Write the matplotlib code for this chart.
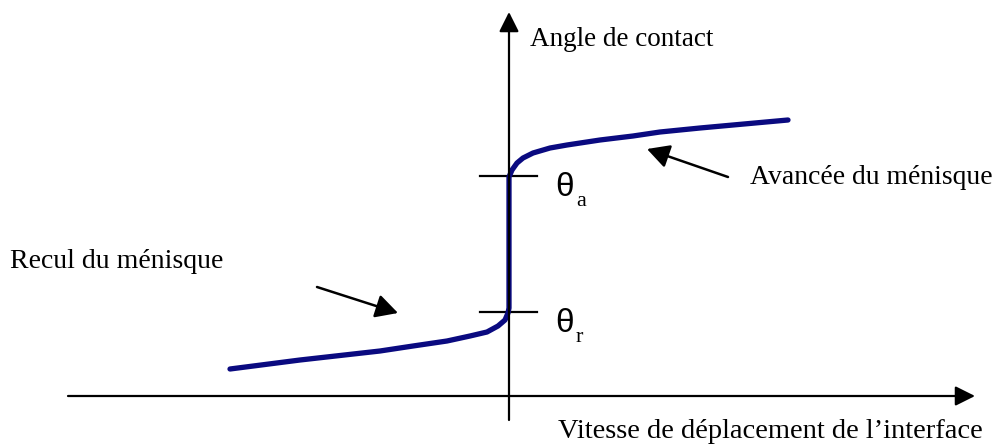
import numpy as np
import matplotlib.pyplot as plt

# contact angle curve, x = interface speed, y = angle
recul_x = [-279, -209, -129, -96, -62, -39, -22, -11, -4, -1, 0]
recul_y = [27, 36, 45, 50, 55, 60, 64, 70, 76, 83, 88]
avance_x = [0, 0, 3, 8, 14, 24, 41, 58, 91, 124, 151, 191, 279]
avance_y = [88, 219, 226, 233, 238, 243, 248, 251, 256, 260, 264, 268, 276]

theta_r = 84
theta_a = 220

x_label = "Vitesse de déplacement de l\u2019interface"
y_label = "Angle de contact"
recul_label = "Recul du ménisque"
avance_label = "Avancée du ménisque"

serif = "Liberation Serif"
sans = "Liberation Sans"

fig = plt.figure(figsize=(9.95, 4.46), dpi=100)
ax = fig.add_axes([0, 0, 1, 1])
ax.set_xlim(-509, 486)
ax.set_ylim(-50, 396)
ax.axis('off')

# axes with arrows
axis_arrow = dict(arrowstyle='-|>', color='black', lw=1.6,
                  mutation_scale=30, shrinkA=0, shrinkB=0)
ax.annotate('', xy=(466, 0), xytext=(-441, 0), arrowprops=axis_arrow)
ax.annotate('', xy=(0, 384), xytext=(0, -24), arrowprops=axis_arrow)

# ticks for theta_a and theta_r
for th in [theta_r, theta_a]:
    ax.plot([-29, 28], [th, th], color='black', lw=1.6)

# the curve
x = np.concatenate([recul_x, avance_x[1:]])
y = np.concatenate([recul_y, avance_y[1:]])
ax.plot(x, y, color='#0a0a80', lw=3.8, solid_capstyle='round', solid_joinstyle='round')

# labels
ax.text(21, 356, y_label, fontsize=19.5, family=serif, va='center', ha='left')
ax.text(49, -36, x_label, fontsize=20.5, family=serif, va='center', ha='left')
ax.text(-499, 134, recul_label, fontsize=20, family=serif, va='center', ha='left')
ax.text(241, 219, avance_label, fontsize=19.9, family=serif, va='center', ha='left')

ax.text(46, theta_a - 12, "θ", fontsize=24, family=sans, va='center', ha='left')
ax.text(67, theta_a - 25, "a", fontsize=16, family=serif, va='center', ha='left')
ax.text(46, theta_r - 12, "θ", fontsize=24, family=sans, va='center', ha='left')
ax.text(67, theta_r - 25, "r", fontsize=16, family=serif, va='center', ha='left')

# pointing arrows
point_arrow = dict(arrowstyle='-|>,head_length=0.45,head_width=0.24', color='black',
                   lw=1.8, mutation_scale=30, shrinkA=0, shrinkB=0)
ax.annotate('', xy=(-111, 83), xytext=(-192, 109), arrowprops=point_arrow)
ax.annotate('', xy=(138, 247), xytext=(219, 219), arrowprops=point_arrow)

plt.savefig('out.png', dpi=100)
